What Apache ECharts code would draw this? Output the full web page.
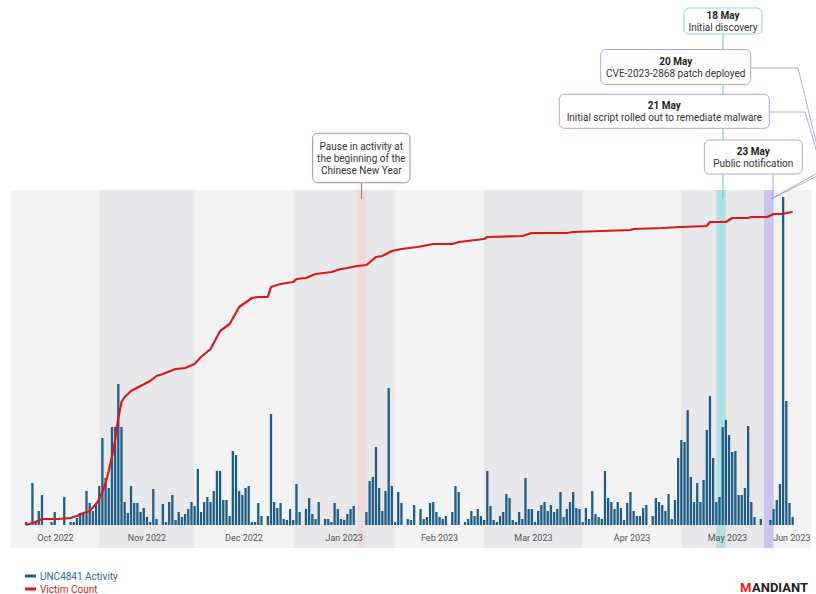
<!DOCTYPE html>
<html>
<head>
<meta charset="utf-8">
<script src="https://cdn.jsdelivr.net/npm/echarts@6/dist/echarts.min.js"></script>
<style>
  html, body { margin: 0; padding: 0; background: #ffffff; }
  #chart { width: 816px; height: 594px; }
</style>
</head>
<body>
<div id="chart"></div>
<script>
// ---------- DATA ----------
const startDate = '2022-10-04';   // first day shown on the axis
const endDate = '2023-06-11';     // last day shown on the axis

// UNC4841 daily activity (relative units), one value per day from startDate
const activity = [
  null, null, null, null, 3, 0, 42, 4, 14, 30, 0, 0, 3, 13, 0, 0, 28, 0, 3, 3,
  7, 12, 11, 34, 22, 14, 22, 39, 87, 47, 37, 98, 98, 141, 98, 23, 12, 39, 22, 22,
  13, 17, 8, 3, 36, 6, 0, 21, 3, 23, 30, 5, 13, 8, 11, 16, 23, 19, 56, 13,
  23, 28, 23, 34, 54, 54, 25, 25, 9, 74, 70, 34, 30, 37, 39, 3, 3, 22, 9, 0,
  9, 111, 23, 17, 22, 6, 5, 16, 5, 41, 13, 0, 16, 27, 11, 6, 23, 0, 6, 6,
  3, 22, 16, 6, 5, 11, 16, 19, 0, 0, 0, 13, 44, 48, 78, 37, 14, 34, 137, 39,
  3, 33, 22, 0, 6, 5, 20, 0, 16, 6, 8, 22, 23, 13, 8, 6, 9, 0, 13, 39,
  33, 0, 3, 6, 14, 9, 16, 9, 5, 54, 19, 5, 3, 9, 13, 31, 27, 5, 3, 13,
  6, 47, 16, 16, 3, 14, 20, 23, 14, 20, 13, 16, 33, 8, 16, 23, 33, 17, 16, 3,
  17, 6, 34, 11, 8, 6, 54, 27, 23, 16, 23, 17, 5, 22, 33, 14, 9, 9, 17, 20,
  0, 9, 27, 23, 20, 14, 31, 6, 25, 67, 85, 83, 115, 48, 23, 42, 23, 45, 95, 129,
  67, 23, 28, 98, 105, 90, 73, 74, 30, 30, 37, 99, 23, 8, 0, 6, 0, 0, 5, 16,
  25, 41, 328, 124, 22, 8
];

// Cumulative victim count (relative units)
const victims = [
  ['2022-10-08', 0], ['2022-10-10', 2], ['2022-10-11', 3], ['2022-10-13', 6], ['2022-10-15', 6],
  ['2022-10-18', 6], ['2022-10-22', 7], ['2022-10-24', 9], ['2022-10-26', 12], ['2022-10-28', 14],
  ['2022-10-30', 21], ['2022-10-31', 26], ['2022-11-01', 33], ['2022-11-02', 42], ['2022-11-03', 54],
  ['2022-11-04', 68], ['2022-11-05', 85], ['2022-11-06', 107], ['2022-11-07', 123], ['2022-11-08', 128],
  ['2022-11-09', 131], ['2022-11-10', 134], ['2022-11-13', 139], ['2022-11-16', 144], ['2022-11-18', 149],
  ['2022-11-20', 151], ['2022-11-24', 156], ['2022-11-27', 157], ['2022-11-30', 161], ['2022-12-02', 168],
  ['2022-12-05', 176], ['2022-12-08', 194], ['2022-12-11', 201], ['2022-12-14', 218], ['2022-12-18', 227],
  ['2022-12-20', 228], ['2022-12-23', 228], ['2022-12-24', 238], ['2022-12-27', 241], ['2022-12-31', 243],
  ['2023-01-01', 246], ['2023-01-04', 247], ['2023-01-07', 251], ['2023-01-12', 253], ['2023-01-15', 256],
  ['2023-01-17', 257], ['2023-01-20', 259], ['2023-01-23', 260], ['2023-01-26', 268], ['2023-01-28', 269],
  ['2023-01-31', 274], ['2023-02-03', 276], ['2023-02-08', 278], ['2023-02-13', 281], ['2023-02-19', 281],
  ['2023-02-21', 283], ['2023-03-01', 286], ['2023-03-02', 288], ['2023-03-13', 289], ['2023-03-16', 292],
  ['2023-03-27', 292], ['2023-03-29', 293], ['2023-04-16', 295], ['2023-04-17', 296], ['2023-04-26', 297],
  ['2023-05-02', 298], ['2023-05-10', 299], ['2023-05-11', 303], ['2023-05-16', 303], ['2023-05-18', 307],
  ['2023-05-23', 307], ['2023-05-24', 308], ['2023-05-29', 308], ['2023-05-31', 311], ['2023-06-03', 311],
  ['2023-06-04', 312], ['2023-06-06', 313]
];

const monthLabels = ['Oct 2022', 'Nov 2022', 'Dec 2022', 'Jan 2023', 'Feb 2023', 'Mar 2023', 'Apr 2023', 'May 2023', 'Jun 2023'];
// band edges (noon of each listed day), as drawn in the reference
const monthEdges = ['2022-10-04', '2022-10-31', '2022-11-30', '2022-12-31', '2023-02-01', '2023-03-01', '2023-04-01', '2023-05-02', '2023-05-31', '2023-06-11'];

// highlighted spans: Chinese New Year pause, 18 May discovery, 23 May notification
const eventSpans = [['2023-01-20', '2023-01-23'], ['2023-05-13', '2023-05-16'], ['2023-05-28', '2023-05-31']];

const seriesNames = ['UNC4841 Activity', 'Victim Count'];
const noteCNY = ['Pause in activity at', 'the beginning of the', 'Chinese New Year'];
const noteDates = ['18 May', '20 May', '21 May', '23 May'];
const noteTexts = ['Initial discovery', 'CVE-2023-2868 patch deployed', 'Initial script rolled out to remediate malware', 'Public notification'];
const brand = ['M', 'ANDIANT'];

// ---------- BUILD ----------
const DAY = 86400000;
const t = (d) => Date.parse(d + 'T00:00:00Z');
const noon = (d) => t(d) + DAY / 2;
const axisMin = t(startDate);
const axisMax = t(endDate) + DAY;

const barData = [];
activity.forEach((v, i) => { if (v !== null) barData.push([axisMin + i * DAY + DAY / 2, v]); });
const victimData = victims.map(p => [noon(p[0]), p[1]]);

const FONT = 'Roboto';
const BAND_LIGHT = '#f3f3f3';
const BAND_DARK = '#e8e8eb';

const areas = [];
for (let i = 0; i < monthLabels.length; i++) {
  const a = i === 0 ? axisMin : noon(monthEdges[i]);
  const b = i === monthLabels.length - 1 ? axisMax : noon(monthEdges[i + 1]);
  areas.push([
    {
      xAxis: a,
      itemStyle: { color: i % 2 === 1 ? BAND_DARK : 'rgba(0,0,0,0)' },
      label: {
        show: true, position: 'insideBottom', distance: 6, formatter: monthLabels[i],
        color: '#555', fontSize: 9, fontFamily: FONT
      }
    },
    { xAxis: b }
  ]);
}
const eventColors = ['#eedcdc', '#b2e1e4', '#c8c4ee'];
eventSpans.forEach((s, i) => {
  areas.push([{ xAxis: noon(s[0]), itemStyle: { color: eventColors[i] }, label: { show: false } }, { xAxis: noon(s[1]) }]);
});

function box(cx, cy, w, h, stroke, text, rich) {
  return [
    { type: 'rect', z: 20, shape: { x: cx - w / 2, y: cy - h / 2, width: w, height: h, r: 5 },
      style: { fill: '#ffffff', stroke: stroke, lineWidth: 1 } },
    { type: 'text', z: 21, x: cx, y: cy,
      style: { text: text, align: 'center', verticalAlign: 'middle', fill: '#333', fontFamily: FONT, fontSize: 10, lineHeight: 12, rich: rich } }
  ];
}
const rich = {
  b: { fontWeight: 'bold', fontSize: 10, lineHeight: 12, fill: '#222', fontFamily: FONT },
  n: { fontSize: 10, lineHeight: 12, fill: '#333', fontFamily: FONT }
};
function twoLine(i) { return '{b|' + noteDates[i] + '}\n{n|' + noteTexts[i] + '}'; }

const TEAL = '#6cc3c9';
const LAV = '#9b96e4';
const graphics = [
  { type: 'polyline', z: 15, shape: { points: [[723, 34], [723, 199]] }, style: { stroke: TEAL, lineWidth: 1, fill: null } },
  { type: 'polyline', z: 15, shape: { points: [[751, 68], [798, 68], [823, 170], [771, 199]] }, style: { stroke: LAV, lineWidth: 0.8, fill: null } },
  { type: 'polyline', z: 15, shape: { points: [[769, 112], [805, 112], [823, 173], [771, 199]] }, style: { stroke: LAV, lineWidth: 0.8, fill: null } },
  { type: 'polyline', z: 15, shape: { points: [[773, 174], [773, 199]] }, style: { stroke: LAV, lineWidth: 0.8, fill: null } },
  { type: 'polyline', z: 15, shape: { points: [[361.5, 183], [361.5, 199]] }, style: { stroke: '#b57474', lineWidth: 1, fill: null } },
  ...box(723, 21, 78, 26, '#8fd3d6', twoLine(0), rich),
  ...box(675.7, 67, 150, 35, '#aaa6e8', twoLine(1), rich),
  ...box(664.3, 111.3, 210, 34, '#aaa6e8', twoLine(2), rich),
  ...box(753.3, 157, 98, 34, '#aaa6e8', twoLine(3), rich),
  ...box(361.3, 158, 97.3, 49.4, '#c08585', noteCNY.join('\n'), {}),
  { type: 'text', z: 21, x: 740, y: 593.5,
    style: { text: brand[0], align: 'left', verticalAlign: 'bottom', fill: '#e0231c', fontWeight: 'bold', fontSize: 13, fontFamily: FONT } },
  { type: 'text', z: 21, x: 752, y: 593.5,
    style: { text: brand[1], align: 'left', verticalAlign: 'bottom', fill: '#222', fontWeight: 'bold', fontSize: 13, fontFamily: FONT } }
];

const legendBase = {
  orient: 'horizontal', left: 25, icon: 'rect', itemWidth: 11, itemHeight: 3, padding: 0,
  textStyle: { fontSize: 10, fontFamily: FONT, padding: [0, 0, 0, -1] }
};

const chart = echarts.init(document.getElementById('chart'), null, { renderer: 'svg' });
chart.setOption({
  animation: false,
  backgroundColor: '#ffffff',
  textStyle: { fontFamily: FONT },
  grid: { left: 10.6, right: 4.7, top: 190, bottom: 46, show: true, backgroundColor: BAND_LIGHT, borderWidth: 0 },
  legend: [
    Object.assign({}, legendBase, { top: 571, data: [{ name: seriesNames[0], textStyle: { color: '#2a6a94' } }] }),
    Object.assign({}, legendBase, { top: 584, data: [{ name: seriesNames[1], textStyle: { color: '#d7191c' } }] })
  ],
  xAxis: { type: 'time', min: axisMin, max: axisMax, show: false, splitLine: { show: false } },
  yAxis: [
    { type: 'value', min: -23, max: 335, show: false, splitLine: { show: false } },
    { type: 'value', min: -23, max: 335, show: false, splitLine: { show: false } }
  ],
  series: [
    {
      name: 'bands', type: 'line', data: [], z: 1, silent: true,
      markArea: { silent: true, data: areas }
    },
    {
      name: seriesNames[0], type: 'bar', data: barData, barWidth: 2.3, z: 3,
      itemStyle: { color: '#1f5d85' }
    },
    {
      name: seriesNames[1], type: 'line', yAxisIndex: 1, data: victimData, z: 5,
      symbol: 'none', lineStyle: { color: '#d7191c', width: 2.2 }, itemStyle: { color: '#d7191c' }
    }
  ],
  graphic: graphics
});
</script>
</body>
</html>
